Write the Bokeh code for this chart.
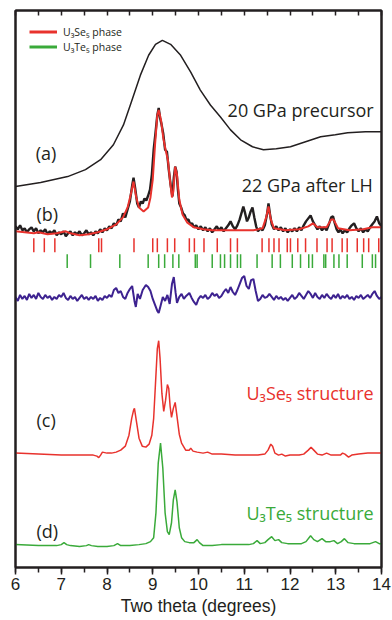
from bokeh.plotting import figure
from bokeh.models import Range1d, LinearAxis, SingleIntervalTicker, FixedTicker, Legend, LegendItem
from bokeh.core.properties import value
from bokeh.embed import file_html
from bokeh.resources import INLINE

# ---------------- data (two theta in degrees, intensity in arbitrary offset units) ----------------
pre_x = [6.00, 6.55, 7.14, 7.53, 7.86, 8.14, 8.36, 8.51, 8.73, 8.91, 9.06, 9.21, 9.39, 9.61, 9.83,
         10.04, 10.26, 10.48, 10.70, 10.92, 11.18, 11.42, 11.70, 12.01, 12.34, 12.67, 12.99, 13.26, 13.65, 14.00]
pre_y = [383, 387, 393, 400, 410, 425, 445, 465, 495, 515, 526, 530, 526, 515, 498,
         480, 465, 453, 440, 430, 423, 420, 421, 423, 428, 433, 435, 437, 438, 438]

obs_x = [6.00, 6.05, 6.10, 6.15, 6.20, 6.25, 6.30, 6.35, 6.40, 6.45, 6.50, 6.55, 6.60, 6.65, 6.70, 6.75,
         6.80, 6.85, 6.90, 6.95, 7.00, 7.05, 7.10, 7.15, 7.20, 7.25, 7.30, 7.35, 7.40, 7.45, 7.50, 7.55,
         7.60, 7.65, 7.70, 7.75, 7.80, 7.85, 7.90, 7.95, 8.00, 8.05, 8.10, 8.15, 8.20, 8.25, 8.30, 8.35,
         8.40, 8.45, 8.50, 8.55, 8.58, 8.62, 8.66, 8.70, 8.74, 8.78, 8.82, 8.86, 8.90, 8.94, 8.98, 9.02,
         9.06, 9.10, 9.13, 9.16, 9.19, 9.23, 9.27, 9.31, 9.35, 9.39, 9.43, 9.46, 9.49, 9.52, 9.55, 9.58,
         9.62, 9.66, 9.70, 9.74, 9.78, 9.82, 9.86, 9.90, 9.95, 10.00, 10.05, 10.10, 10.15, 10.20, 10.25,
         10.30, 10.35, 10.40, 10.45, 10.50, 10.55, 10.60, 10.65, 10.70, 10.75, 10.80, 10.85, 10.90, 10.95,
         10.98, 11.02, 11.06, 11.10, 11.14, 11.18, 11.22, 11.26, 11.30, 11.35, 11.40, 11.45, 11.50, 11.53,
         11.56, 11.60, 11.65, 11.70, 11.75, 11.80, 11.85, 11.90, 11.95, 12.00, 12.05, 12.10, 12.15, 12.20,
         12.25, 12.30, 12.35, 12.40, 12.45, 12.50, 12.55, 12.60, 12.65, 12.70, 12.75, 12.80, 12.85, 12.90,
         12.94, 12.98, 13.02, 13.06, 13.10, 13.15, 13.20, 13.25, 13.30, 13.35, 13.40, 13.45, 13.50, 13.55,
         13.60, 13.65, 13.70, 13.75, 13.80, 13.85, 13.90, 13.95, 14.00]
obs_y = [343, 340, 344, 339, 341, 337, 340, 342, 338, 341, 336, 339, 337, 340, 335, 338,
         336, 339, 334, 337, 335, 338, 333, 336, 338, 334, 337, 335, 338, 334, 336, 339,
         335, 337, 334, 338, 336, 340, 337, 341, 339, 343, 341, 346, 344, 350, 348, 356,
         352, 360, 368, 384, 392, 380, 366, 362, 368, 366, 371, 369, 374, 380, 395, 420,
         437, 455, 462, 452, 446, 436, 420, 418, 400, 385, 373, 392, 403, 398, 380, 366,
         362, 356, 354, 349, 350, 345, 346, 342, 344, 340, 343, 339, 342, 338, 341,
         337, 340, 343, 339, 342, 338, 341, 344, 348, 343, 340, 344, 350, 358,
         363, 356, 348, 352, 358, 362, 352, 343, 338, 341, 339, 344, 356, 366,
         356, 345, 340, 343, 339, 342, 338, 341, 337, 340, 338, 341, 338, 342,
         339, 344, 348, 351, 354, 348, 344, 340, 343, 339, 342, 339, 345, 352,
         353, 346, 340, 337, 340, 336, 339, 337, 341, 344, 346, 341, 338, 341,
         337, 340, 338, 342, 345, 348, 353, 346, 343]

fit_x = [6.0, 6.2, 6.4, 6.5, 6.7, 6.9, 7.1, 7.2, 7.4, 7.6, 7.8, 8.0, 8.2, 8.35, 8.45, 8.52, 8.58,
         8.64, 8.7, 8.8, 8.9, 8.95, 9.0, 9.05, 9.1, 9.13, 9.18, 9.23, 9.28, 9.33, 9.38, 9.42, 9.45,
         9.49, 9.53, 9.58, 9.65, 9.75, 9.9, 10.1, 10.3, 10.6, 10.9, 11.2, 11.4, 11.48, 11.53, 11.58,
         11.65, 11.9, 12.2, 12.4, 12.5, 12.6, 12.8, 12.9, 12.95, 13.05, 13.3, 13.6, 13.8, 14.0]
fit_y = [338, 337, 336, 337, 335, 336, 338, 336, 334, 335, 337, 340, 345, 352, 362, 375, 388,
         372, 362, 358, 362, 372, 390, 425, 455, 460, 450, 432, 420, 410, 388, 372, 378,
         403, 395, 370, 355, 347, 342, 340, 339, 339, 339, 339, 341, 352, 363, 350,
         341, 339, 340, 343, 346, 342, 342, 350, 350, 341, 339, 340, 342, 342]

se5_ticks = [6.40, 6.63, 6.86, 7.82, 7.88, 8.59, 9.00, 9.10, 9.32, 9.48, 9.80, 9.91, 10.12, 10.41,
             10.70, 10.85, 11.39, 11.54, 11.65, 11.76, 11.94, 12.01, 12.17, 12.34, 12.59, 12.81,
             12.92, 13.14, 13.25, 13.47, 13.61, 13.72, 13.94]
te5_ticks = [7.13, 7.64, 8.28, 8.90, 9.13, 9.26, 9.44, 9.57, 9.93, 9.97, 10.30, 10.48, 10.57,
             10.70, 10.85, 10.92, 11.28, 11.61, 11.79, 12.05, 12.23, 12.41, 12.49, 12.74, 12.78,
             12.96, 13.07, 13.25, 13.58, 13.80, 13.87]

diff_x = [6.0, 6.05, 6.1, 6.15, 6.2, 6.25, 6.3, 6.35, 6.4, 6.45, 6.5, 6.55, 6.6, 6.65, 6.7, 6.75,
          6.8, 6.85, 6.9, 6.95, 7.0, 7.05, 7.1, 7.15, 7.2, 7.25, 7.3, 7.35, 7.4, 7.45, 7.5, 7.55,
          7.6, 7.65, 7.7, 7.75, 7.8, 7.85, 7.9, 7.95, 8.0, 8.05, 8.1, 8.15, 8.2, 8.25, 8.3, 8.35,
          8.4, 8.45, 8.5, 8.55, 8.6, 8.63, 8.67, 8.72, 8.78, 8.85, 8.9, 8.95, 9.0, 9.05, 9.1, 9.13,
          9.17, 9.22, 9.27, 9.32, 9.37, 9.42, 9.46, 9.5, 9.53, 9.58, 9.63, 9.68, 9.73, 9.8, 9.85,
          9.9, 9.95, 10.0, 10.05, 10.1, 10.15, 10.2, 10.25, 10.3, 10.35, 10.4, 10.45, 10.5, 10.55,
          10.6, 10.65, 10.7, 10.75, 10.8, 10.85, 10.9, 10.95, 11.0, 11.05, 11.1, 11.15, 11.2, 11.25,
          11.3, 11.35, 11.4, 11.45, 11.5, 11.55, 11.6, 11.65, 11.7, 11.75, 11.8, 11.85, 11.9, 11.95,
          12.0, 12.05, 12.1, 12.15, 12.2, 12.25, 12.3, 12.35, 12.4, 12.45, 12.5, 12.55, 12.6, 12.65,
          12.7, 12.75, 12.8, 12.85, 12.9, 12.95, 13.0, 13.05, 13.1, 13.15, 13.2, 13.25, 13.3, 13.35,
          13.4, 13.45, 13.5, 13.55, 13.6, 13.65, 13.7, 13.75, 13.8, 13.85, 13.9, 13.95, 14.0]
diff_y = [272, 268, 274, 270, 273, 269, 275, 271, 274, 270, 276, 272, 270, 274, 271, 273,
          269, 272, 270, 274, 272, 276, 271, 269, 273, 270, 272, 268, 271, 274, 270, 272,
          269, 272, 270, 273, 268, 271, 269, 273, 271, 274, 272, 279, 281, 276, 278, 272,
          270, 276, 280, 283, 268, 262, 275, 270, 279, 284, 282, 278, 270, 264, 258, 256,
          263, 272, 268, 274, 265, 285, 292, 276, 266, 272, 275, 270, 273, 276, 271,
          267, 264, 270, 273, 271, 274, 270, 272, 276, 273, 275, 271, 273, 277,
          280, 276, 282, 277, 274, 279, 285, 291, 293, 283, 280, 289, 290, 278,
          268, 270, 274, 271, 272, 275, 272, 269, 273, 270, 272, 269, 271, 268,
          271, 274, 270, 272, 276, 273, 270, 274, 278, 275, 271, 276, 272, 270,
          274, 271, 275, 272, 270, 274, 271, 275, 270, 273, 271, 274, 270, 272,
          269, 273, 271, 274, 270, 272, 274, 271, 275, 278, 273, 270, 272]

simse_x = [6.0, 6.5, 7.0, 7.5, 7.7, 7.78, 7.82, 7.86, 7.9, 8.0, 8.1, 8.2, 8.3, 8.4, 8.48, 8.54, 8.58,
           8.6, 8.64, 8.7, 8.77, 8.85, 8.92, 8.98, 9.02, 9.06, 9.1, 9.13, 9.16, 9.2, 9.24, 9.28, 9.32,
           9.35, 9.38, 9.41, 9.45, 9.49, 9.53, 9.58, 9.63, 9.72, 9.8, 9.83, 9.88, 9.97, 10.1, 10.2,
           10.3, 10.5, 10.8, 11.0, 11.3, 11.45, 11.52, 11.58, 11.62, 11.67, 11.75, 11.82, 11.9, 12.0,
           12.1, 12.2, 12.3, 12.4, 12.46, 12.52, 12.6, 12.7, 12.8, 12.9, 13.0, 13.1, 13.15, 13.2,
           13.28, 13.35, 13.5, 13.7, 14.0]
simse_y = [115, 114, 113, 113, 113, 112, 110.5, 113, 116, 115, 115, 116, 118, 122, 133, 150, 158,
           160, 148, 130, 122, 121, 124, 133, 150, 185, 220, 228, 210, 175, 157, 168, 184,
           180, 162, 151, 160, 166, 152, 134, 125, 118, 118, 120, 117, 116, 115, 116,
           114, 114, 113, 113, 113, 114, 118, 124, 122, 115, 113, 114, 112, 113,
           113, 113, 114, 118, 121, 118, 114, 113, 115, 113, 113, 113, 115, 114,
           111, 113, 114, 115, 115]

simte_x = [6.0, 6.5, 6.9, 7.0, 7.06, 7.12, 7.2, 7.4, 7.55, 7.6, 7.66, 7.8, 8.0, 8.15, 8.23, 8.3, 8.5,
           8.7, 8.85, 8.95, 9.02, 9.07, 9.12, 9.17, 9.22, 9.27, 9.32, 9.36, 9.41, 9.45, 9.49, 9.53,
           9.58, 9.63, 9.7, 9.8, 9.9, 9.97, 10.02, 10.1, 10.3, 10.5, 10.7, 10.9, 11.1, 11.2, 11.28,
           11.35, 11.45, 11.52, 11.6, 11.67, 11.75, 11.82, 11.95, 12.1, 12.25, 12.35, 12.45, 12.52,
           12.6, 12.7, 12.78, 12.88, 12.96, 13.04, 13.12, 13.19, 13.27, 13.4, 13.6, 13.75, 13.87,
           13.95, 14.0]
simte_y = [23, 22, 22, 23, 25, 23, 22, 21, 22, 23, 22, 21, 21, 22, 24, 22, 22,
           23, 24, 26, 30, 55, 105, 125, 100, 55, 36, 33, 45, 68, 78, 66,
           40, 30, 26, 25, 25, 28, 25, 22, 22, 23, 23, 23, 23, 24, 27,
           24, 25, 28, 31, 27, 28, 25, 24, 24, 24, 26, 32, 28,
           26, 29, 26, 26, 27, 24, 26, 29, 25, 24, 24, 24, 26,
           24, 24]

legend_labels = ["U₃Se₅ phase", "U₃Te₅ phase"]

# ---------------- styles ----------------
RED = "#e8322d"
GREEN = "#3aaa3a"
PURPLE = "#3d2290"
INK = "#231f20"
SANS = "Open Sans"
AXF = "Liberation Sans"

p = figure(width=392, height=618, x_range=Range1d(6, 14), y_range=Range1d(0, 560),
           output_backend="svg", toolbar_location=None, y_axis_location=None,
           min_border_left=15, min_border_right=11, min_border_top=10, min_border_bottom=0)
p.grid.visible = False
p.outline_line_color = INK
p.outline_line_width = 2
p.background_fill_color = "white"
p.border_fill_color = "white"

xa = p.xaxis[0]
xa.ticker = SingleIntervalTicker(interval=1, num_minor_ticks=2)
xa.major_tick_out = 7
xa.major_tick_in = 0
xa.minor_tick_out = 5
xa.minor_tick_in = 0
xa.axis_line_color = INK
xa.axis_line_width = 2
xa.major_tick_line_color = INK
xa.minor_tick_line_color = INK
xa.major_tick_line_width = 1.5
xa.minor_tick_line_width = 1.5
xa.major_label_text_font = AXF
xa.major_label_text_font_size = "17px"
xa.major_label_text_color = INK
xa.major_label_standoff = 3
xa.axis_label = "Two theta (degrees)"
xa.axis_label_text_font = AXF
xa.axis_label_text_font_style = "normal"
xa.axis_label_text_font_size = "17.5px"
xa.axis_label_text_color = INK
xa.axis_label_standoff = 3

# top axis: only inward (minor) ticks every half degree, no labels
half_steps = [6 + 0.5 * i for i in range(17)]
top = LinearAxis(ticker=FixedTicker(ticks=[], minor_ticks=half_steps),
                 major_tick_in=0, major_tick_out=0, minor_tick_in=5, minor_tick_out=0,
                 axis_line_color=INK, axis_line_width=2, minor_tick_line_color=INK,
                 minor_tick_line_width=1.5)
p.add_layout(top, "above")

# left / right frame lines (axes without ticks or labels)
for side in ("left", "right"):
    ax = LinearAxis(ticker=FixedTicker(ticks=[], minor_ticks=[]),
                    major_tick_in=0, major_tick_out=0, minor_tick_in=0, minor_tick_out=0,
                    axis_line_color=INK, axis_line_width=2)
    p.add_layout(ax, side)

# curves
p.line(pre_x, pre_y, line_color=INK, line_width=1.5)
p.line(obs_x, obs_y, line_color=INK, line_width=2.4)
p.line(fit_x, fit_y, line_color=RED, line_width=2)
p.segment(x0=se5_ticks, x1=se5_ticks, y0=[317] * len(se5_ticks), y1=[331] * len(se5_ticks),
          line_color=RED, line_width=1.5)
p.segment(x0=te5_ticks, x1=te5_ticks, y0=[301] * len(te5_ticks), y1=[315] * len(te5_ticks),
          line_color=GREEN, line_width=1.5)
p.line(diff_x, diff_y, line_color=PURPLE, line_width=2)
p.line(simse_x, simse_y, line_color=RED, line_width=1.5)
p.line(simte_x, simte_y, line_color=GREEN, line_width=1.5)

# annotations
p.text(x=[13.83, 13.81], y=[460, 385], text=["20 GPa precursor", "22 GPa after LH"],
       text_font=value(SANS), text_font_size="18px", text_color=INK,
       text_align="right", text_baseline="middle")
p.text(x=[6.44, 6.46, 6.46, 6.46], y=[417, 355, 148, 37], text=["(a)", "(b)", "(c)", "(d)"],
       text_font=value(SANS), text_font_size="18px", text_color=INK,
       text_align="left", text_baseline="middle")
p.text(x=[13.83], y=[175], text=["U₃Se₅ structure"], text_font=value(SANS),
       text_font_size="18px", text_color=RED, text_align="right", text_baseline="middle")
p.text(x=[13.83], y=[55], text=["U₃Te₅ structure"], text_font=value(SANS),
       text_font_size="18px", text_color=GREEN, text_align="right", text_baseline="middle")

# legend (legend-only renderers, nothing plotted)
nan = float("nan")
lr = p.line([nan], [nan], line_color=RED, line_width=3)
lg = p.line([nan], [nan], line_color=GREEN, line_width=3)
legend = Legend(items=[LegendItem(label=legend_labels[0], renderers=[lr]),
                       LegendItem(label=legend_labels[1], renderers=[lg])],
                location=(14, 513), margin=0, padding=4, spacing=0,
                glyph_width=28, glyph_height=15, label_height=15, label_standoff=6,
                label_text_font=SANS, label_text_font_size="10.5px", label_text_color=INK,
                border_line_color=None, background_fill_alpha=0)
p.add_layout(legend)

open("out.html", "w").write(file_html(p, INLINE))
